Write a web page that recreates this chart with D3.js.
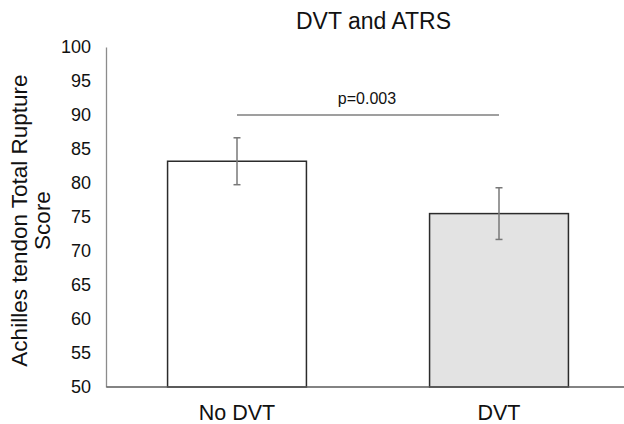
<!DOCTYPE html>
<html>
<head>
<meta charset="utf-8">
<script src="https://cdn.jsdelivr.net/npm/d3@7"></script>
<style>
  html, body { margin: 0; padding: 0; background: #fff; }
  svg { display: block; font-family: "Liberation Sans", Arial, sans-serif; }
</style>
</head>
<body>
<svg id="chart" width="624" height="424"></svg>
<script>
const categories = ["No DVT", "DVT"];
const means = [83.2, 75.5];
const errors = [3.45, 3.8];
const fills = ["#ffffff", "#e3e3e3"];
const yTicks = [50, 55, 60, 65, 70, 75, 80, 85, 90, 95, 100];
const title = "DVT and ATRS";
const yTitleLines = ["Achilles tendon Total Rupture", "Score"];
const sigLabel = "p=0.003";
const sigLevel = 90;

const svg = d3.select("#chart");
const x = d3.scaleBand().domain(categories).range([106, 630]).paddingInner(0.47).paddingOuter(0.235);
const y = d3.scaleLinear().domain([50, 100]).range([387, 47]);

// title
svg.append("text").attr("x", 373.5).attr("y", 29).attr("text-anchor", "middle")
  .attr("font-size", 23).attr("fill", "#111").text(title);

// y axis
const yAxis = d3.axisLeft(y).tickValues(yTicks).tickSize(0).tickPadding(15).tickFormat(d3.format("d"));
const gy = svg.append("g").attr("transform", "translate(106,0)").call(yAxis);
gy.select(".domain").attr("stroke", "#8c8c8c").attr("stroke-width", 1.3);
gy.selectAll("text").attr("font-size", 18).attr("fill", "#111").attr("font-family", "Liberation Sans, Arial, sans-serif");

// y title
const yt = svg.append("text").attr("transform", "translate(0,220.5) rotate(-90)")
  .attr("text-anchor", "middle").attr("font-size", 22.5).attr("fill", "#111");
yTitleLines.forEach((t, i) => {
  yt.append("tspan").attr("x", 0).attr("y", 27 + i * 23).text(t);
});

// bars
svg.selectAll("rect.bar").data(categories).join("rect").attr("class", "bar")
  .attr("x", d => x(d)).attr("width", x.bandwidth())
  .attr("y", (d, i) => y(means[i])).attr("height", (d, i) => y(50) - y(means[i]))
  .attr("fill", (d, i) => fills[i]).attr("stroke", "#2b2b2b").attr("stroke-width", 1.5);

// x axis
const xAxis = d3.axisBottom(x).tickSize(0).tickPadding(18);
const gx = svg.append("g").attr("transform", "translate(0,386.5)").call(xAxis);
gx.select(".domain").attr("stroke", "#5a5a5a").attr("stroke-width", 1.5);
gx.selectAll("text").attr("font-size", 21.5).attr("fill", "#111").attr("font-family", "Liberation Sans, Arial, sans-serif");

// error bars
const eb = svg.append("g").attr("stroke", "#787878").attr("stroke-width", 1.5);
categories.forEach((c, i) => {
  const cx = x(c) + x.bandwidth() / 2;
  const top = y(means[i] + errors[i]), bot = y(means[i] - errors[i]);
  eb.append("line").attr("x1", cx).attr("x2", cx).attr("y1", top).attr("y2", bot);
  eb.append("line").attr("x1", cx - 3.5).attr("x2", cx + 3.5).attr("y1", top).attr("y2", top);
  eb.append("line").attr("x1", cx - 3.5).attr("x2", cx + 3.5).attr("y1", bot).attr("y2", bot);
});

// significance
const x1 = x(categories[0]) + x.bandwidth() / 2, x2 = x(categories[1]) + x.bandwidth() / 2;
svg.append("line").attr("x1", x1).attr("x2", x2).attr("y1", y(sigLevel)).attr("y2", y(sigLevel))
  .attr("stroke", "#404040").attr("stroke-width", 1.2);
svg.append("text").attr("x", (x1 + x2) / 2 - 1).attr("y", y(sigLevel) - 11).attr("text-anchor", "middle")
  .attr("font-size", 16).attr("fill", "#111").text(sigLabel);
</script>
</body>
</html>
